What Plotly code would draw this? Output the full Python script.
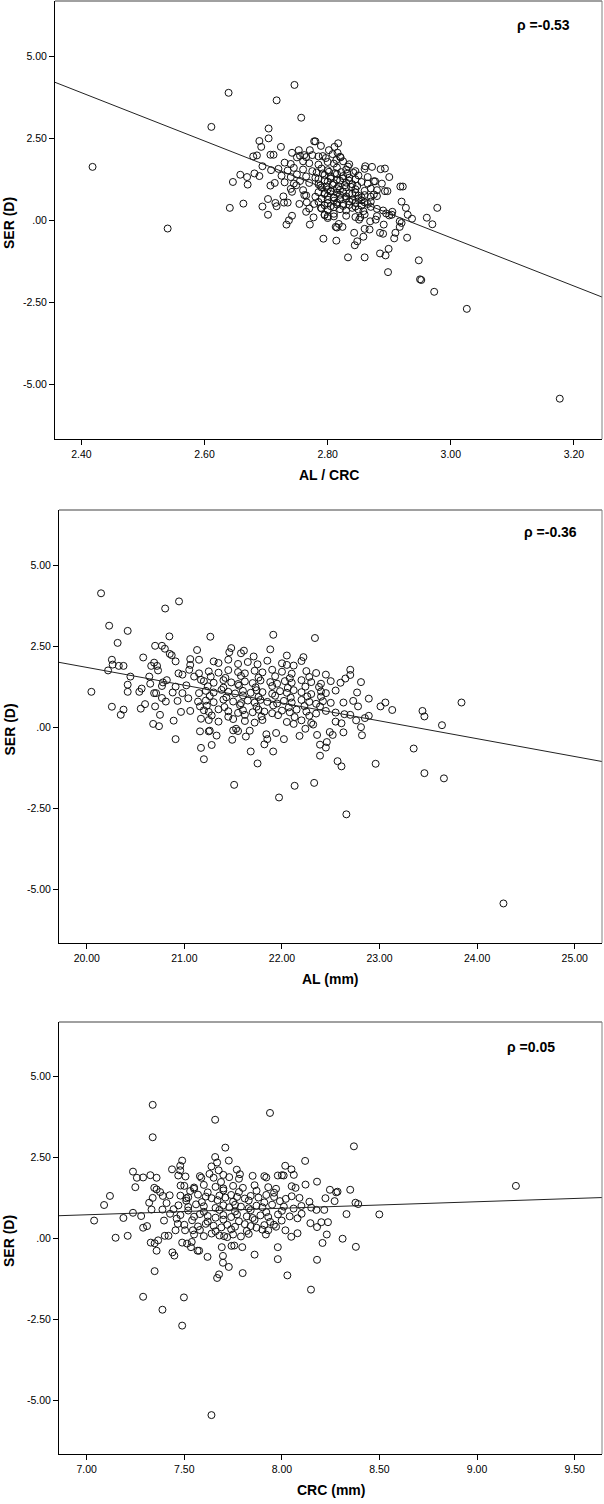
import plotly.graph_objects as go

# ---------------- Panel 1: AL / CRC vs SER ----------------
p1_x = [2.418, 2.540, 2.639, 2.611, 2.746, 2.717, 2.757, 2.641, 2.663, 2.646, 2.658, 2.669, 2.670,
        2.679, 2.685, 2.689, 2.692, 2.681, 2.689, 2.694, 2.704, 2.704, 2.707, 2.712, 2.724, 2.708,
        2.707, 2.714, 2.703, 2.694, 2.703, 2.715, 2.717, 2.728, 2.729, 2.735, 2.733, 2.737, 2.742,
        2.742, 2.754, 2.749, 2.742, 2.753, 2.750, 2.762, 2.771, 2.778, 2.780, 2.789, 2.792, 2.802,
        2.811, 2.817, 2.816, 2.821, 2.814, 2.833, 2.861, 2.872, 2.886, 2.893, 2.900, 2.918, 2.922,
        2.888, 2.877, 2.893, 2.897, 2.920, 2.927, 2.905, 2.904, 2.930, 2.937, 2.917, 2.920, 2.917,
        2.910, 2.908, 2.929, 2.961, 2.970, 2.978, 2.899, 2.885, 2.894, 2.898, 2.948, 2.950, 2.952,
        2.973, 3.026, 3.177, 2.833, 2.860, 2.844, 2.848, 2.843, 2.858, 2.860, 2.868, 2.885, 2.890,
        2.891, 2.878, 2.869, 2.851, 2.853, 2.858, 2.815, 2.813, 2.818, 2.824, 2.814, 2.793, 2.810,
        2.800, 2.795, 2.777, 2.771, 2.765, 2.766, 2.770, 2.778, 2.762, 2.789]
p1_y = [1.63, -0.25, 3.89, 2.85, 4.13, 3.66, 3.13, 0.38, 0.51, 1.17, 1.39, 1.32, 1.09,
        1.95, 1.98, 2.42, 2.24, 1.43, 1.35, 1.65, 2.80, 2.50, 2.00, 2.00, 2.24, 1.53,
        1.06, 1.14, 0.65, 0.42, 0.17, 0.53, 0.43, 0.73, 0.54, 0.54, -0.13, 0.00, 0.14,
        0.87, 0.50, 1.07, 2.06, 2.14, 1.92, 1.99, 2.14, 2.41, 2.41, 2.27, 1.96, 2.14,
        2.24, 2.35, 2.06, 1.92, 1.84, 1.64, 1.65, 1.63, 1.56, 1.58, 1.32, 1.03, 1.03,
        1.12, 1.19, 0.89, 0.89, 0.57, 0.38, 0.26, 0.17, 0.17, 0.05, -0.03, -0.08, -0.20,
        -0.38, -0.55, -0.53, 0.08, -0.12, 0.38, -0.87, -1.01, -1.07, -1.58, -1.22, -1.80, -1.82,
        -2.18, -2.70, -5.44, -1.13, -1.13, -0.76, -0.64, -0.38, -0.50, -0.26, -0.28, -0.38, -0.41,
        -0.13, 0.02, -0.03, 0.02, 0.09, 0.28, -0.22, -0.20, -0.11, -0.20, -0.62, -0.56, 0.12,
        0.07, 0.17, 0.09, -0.13, 0.26, 0.55, 0.36, 0.50, 0.77, 0.38]
p1_cluster_x = [2.755, 2.765, 2.775, 2.785, 2.797, 2.808, 2.820,
                2.730, 2.740, 2.760, 2.770, 2.785, 2.800, 2.810, 2.825, 2.835,
                2.720, 2.735, 2.745, 2.760, 2.775, 2.790, 2.800, 2.815, 2.830, 2.845, 2.860,
                2.725, 2.740, 2.750, 2.765, 2.780, 2.795, 2.805, 2.815, 2.825, 2.835, 2.850, 2.865,
                2.730, 2.745, 2.755, 2.770, 2.785, 2.800, 2.810, 2.820, 2.830, 2.840, 2.855, 2.865, 2.875,
                2.740, 2.760, 2.790, 2.800, 2.805, 2.815, 2.820, 2.830, 2.845, 2.860, 2.870, 2.880,
                2.765, 2.780, 2.795, 2.800, 2.810, 2.820, 2.830, 2.840, 2.850, 2.855, 2.860, 2.870, 2.875, 2.880,
                2.785, 2.800, 2.810, 2.815, 2.825, 2.835, 2.845, 2.855, 2.860, 2.865, 2.870,
                2.790, 2.800, 2.810, 2.820, 2.830, 2.840, 2.850, 2.870, 2.880, 2.890,
                2.795, 2.800, 2.810, 2.830, 2.845, 2.860, 2.880, 2.895, 2.900]
p1_cluster_y = [1.97, 1.93, 1.99, 1.95, 1.90, 2.02, 1.94,
                1.76, 1.72, 1.80, 1.74, 1.70, 1.78, 1.73, 1.80, 1.71,
                1.57, 1.52, 1.60, 1.55, 1.50, 1.58, 1.53, 1.61, 1.55, 1.50, 1.57,
                1.36, 1.32, 1.40, 1.34, 1.30, 1.38, 1.33, 1.41, 1.35, 1.30, 1.37, 1.32,
                1.16, 1.12, 1.20, 1.14, 1.10, 1.18, 1.13, 1.21, 1.15, 1.10, 1.17, 1.12, 1.19,
                0.96, 0.92, 1.00, 0.94, 0.90, 0.98, 0.93, 1.01, 0.95, 0.90, 0.97, 0.92,
                0.76, 0.72, 0.80, 0.74, 0.70, 0.78, 0.73, 0.81, 0.75, 0.70, 0.77, 0.72, 0.79, 0.74,
                0.56, 0.52, 0.60, 0.54, 0.50, 0.58, 0.53, 0.61, 0.55, 0.50, 0.57,
                0.36, 0.32, 0.40, 0.34, 0.30, 0.38, 0.33, 0.41, 0.35, 0.30,
                0.16, 0.12, 0.20, 0.14, 0.10, 0.18, 0.13, 0.21, 0.15]
p1_core_x = [2.782, 2.792, 2.802, 2.812, 2.822, 2.832, 2.842,
             2.785, 2.795, 2.805, 2.815, 2.825, 2.835, 2.845,
             2.788, 2.798, 2.808, 2.818, 2.828, 2.838, 2.848,
             2.785, 2.795, 2.805, 2.815, 2.825, 2.835, 2.845,
             2.790, 2.800, 2.810, 2.820, 2.830, 2.840, 2.850,
             2.795, 2.805, 2.815, 2.825, 2.835, 2.845, 2.855]
p1_core_y = [1.46, 1.43, 1.48, 1.44, 1.47, 1.42, 1.45,
             1.26, 1.22, 1.27, 1.24, 1.28, 1.21, 1.25,
             1.06, 1.03, 1.08, 1.04, 1.07, 1.02, 1.05,
             0.86, 0.83, 0.88, 0.84, 0.87, 0.82, 0.85,
             0.66, 0.63, 0.68, 0.64, 0.67, 0.62, 0.65,
             0.46, 0.43, 0.48, 0.44, 0.47, 0.42, 0.45]
p1_fit_x = [2.357, 3.2456]
p1_fit_y = [4.21, -2.34]

# ---------------- Panel 2: AL vs SER ----------------
p2_x = [20.146, 20.945, 20.803, 20.229, 20.419, 20.316, 20.846, 21.266, 21.911, 22.338, 20.047, 20.257,
        20.376, 20.348, 20.218, 20.257, 20.265, 20.328, 20.376, 20.447, 20.419, 20.419, 20.538, 20.562,
        20.553, 20.597, 20.578, 20.68, 20.74, 20.75, 20.70, 20.69, 20.71, 20.66, 20.69, 20.72, 20.73,
        20.70, 20.77, 20.80, 20.85, 20.87, 20.91, 20.64, 20.65, 20.77, 20.78, 20.82, 20.77, 20.81,
        20.89, 20.91, 20.965, 20.93, 20.88, 20.91, 20.94, 20.98, 20.98, 21.02, 21.04, 21.06, 21.06,
        21.06, 21.05, 21.10, 21.13, 21.15, 21.15, 21.17, 21.15, 21.14, 21.16, 21.17, 21.16, 21.17,
        21.20, 21.28, 21.25, 21.26, 21.33, 21.51, 21.49, 21.50, 21.53, 21.55, 21.63, 21.67, 21.68,
        21.75, 21.82, 21.84, 21.85, 21.91, 21.94, 21.97, 22.02, 22.13, 22.18, 22.24, 22.33, 22.36,
        22.39, 22.39, 22.45, 22.46, 22.49, 22.52, 22.57, 22.61, 22.63, 22.66, 22.81, 22.82, 22.76,
        22.85, 22.89, 22.89, 22.96, 23.01, 23.06, 23.13, 23.35, 23.44, 23.46, 23.46, 23.64, 23.66,
        23.84, 24.27, 22.81, 22.77, 22.70, 22.70, 22.65, 22.73, 22.78, 22.63, 22.64, 22.70, 22.61,
        22.55]
p2_y = [4.13, 3.88, 3.66, 3.13, 2.97, 2.60, 2.80, 2.79, 2.85, 2.75, 1.09, 0.63,
        0.54, 0.38, 1.75, 2.08, 1.93, 1.89, 1.89, 1.56, 1.31, 1.09, 1.09, 1.19,
        0.57, 0.71, 2.15, 0.10, 0.03, 0.38, 0.64, 1.05, 1.05, 1.89, 1.99, 1.89, 1.75,
        2.51, 2.51, 2.42, 2.26, 2.22, 2.03, 1.56, 1.34, 1.27, 1.38, 1.45, 0.90, 0.79,
        0.20, -0.37, 0.47, 0.81, 1.07, 1.25, 1.66, 1.62, 1.05, 1.29, 0.89, 0.50, 2.10,
        1.92, 1.77, 1.56, 2.38, 2.08, 1.66, 1.46, 1.05, 0.79, 0.64, 0.26, -0.13, -0.64,
        -0.99, -0.55, -0.13, -0.11, -0.26, -1.78, -0.39, -0.10, -0.05, -0.12, -0.29, -0.11, -0.75,
        -1.12, -0.53, -0.22, -0.37, -0.75, -0.18, -2.17, -0.37, -1.81, -0.27, -0.05, -1.72, -0.24,
        -0.54, -0.88, -0.63, -0.46, -0.15, -0.24, -1.05, -1.21, -0.16, -2.69, 0.00, -0.25, 0.21,
        0.28, 0.35, 0.88, -1.13, 0.64, 0.76, 0.53, -0.66, 0.50, 0.33, -1.42, 0.06, -1.58,
        0.76, -5.44, 1.39, 1.07, 1.77, 1.61, 1.50, 0.81, 0.64, 0.76, 0.40, 0.38, 0.12,
        0.17]
p2_cluster_x = [21.46, 21.48, 21.58, 21.61, 21.71, 21.88, 22.05, 22.22,
                21.30, 21.35, 21.45, 21.55, 21.65, 21.75, 21.85, 22.00, 22.05, 22.20, 22.12,
                21.25, 21.35, 21.45, 21.55, 21.62, 21.72, 21.80, 21.90, 22.00, 22.10, 22.25, 22.35, 22.45,
                21.20, 21.30, 21.40, 21.48, 21.55, 21.62, 21.70, 21.78, 21.88, 21.95, 22.03, 22.10, 22.20,
                22.30, 22.40, 22.50, 22.60,
                21.22, 21.30, 21.38, 21.45, 21.52, 21.60, 21.68, 21.74, 21.80, 21.90, 21.98, 22.05, 22.12,
                22.20, 22.30, 22.40, 22.45, 22.55,
                21.22, 21.30, 21.40, 21.50, 21.58, 21.65, 21.72, 21.78, 21.85, 21.95, 22.02, 22.10, 22.20,
                22.28, 22.35, 22.42, 22.50,
                21.20, 21.25, 21.35, 21.45, 21.55, 21.60, 21.70, 21.76, 21.82, 21.90, 22.00, 22.08, 22.15,
                22.25, 22.35, 22.45, 22.55,
                21.25, 21.35, 21.50, 21.62, 21.72, 21.80, 22.05, 22.12, 22.20, 22.30, 22.32]
p2_cluster_y = [2.31, 2.44, 2.28, 2.36, 2.18, 2.40, 2.21, 2.16,
                2.03, 1.98, 2.08, 1.95, 2.01, 1.94, 2.05, 1.97, 1.92, 2.04, 1.90,
                1.72, 1.68, 1.76, 1.70, 1.66, 1.74, 1.69, 1.77, 1.71, 1.65, 1.73, 1.67, 1.62,
                1.42, 1.37, 1.45, 1.38, 1.33, 1.41, 1.36, 1.44, 1.39, 1.34, 1.42, 1.37, 1.45,
                1.39, 1.34, 1.42, 1.37,
                1.12, 1.07, 1.15, 1.09, 1.04, 1.12, 1.06, 1.14, 1.08, 1.03, 1.11, 1.06, 1.14,
                1.08, 1.02, 1.10, 1.05, 1.13,
                0.82, 0.77, 0.85, 0.79, 0.74, 0.82, 0.76, 0.84, 0.78, 0.73, 0.81, 0.76, 0.84,
                0.78, 0.72, 0.80, 0.75,
                0.52, 0.47, 0.55, 0.49, 0.44, 0.52, 0.46, 0.54, 0.48, 0.43, 0.51, 0.46, 0.54,
                0.48, 0.42, 0.50, 0.45,
                0.22, 0.17, 0.25, 0.19, 0.14, 0.22, 0.16, 0.10, 0.21, 0.13, 0.08]
p2_core_x = [21.27, 21.42, 21.58, 21.76, 21.93, 22.08, 22.28,
             21.24, 21.40, 21.56, 21.73, 21.90, 22.06, 22.24, 22.38,
             21.26, 21.43, 21.60, 21.76, 21.93, 22.09, 22.26, 22.40,
             21.23, 21.41, 21.57, 21.74, 21.91, 22.07, 22.23, 22.39,
             21.28, 21.45, 21.62, 21.79, 21.96, 22.13, 22.28]
p2_core_y = [1.56, 1.52, 1.58, 1.53, 1.57, 1.51, 1.55,
             1.26, 1.22, 1.28, 1.23, 1.27, 1.21, 1.25, 1.24,
             0.96, 0.92, 0.98, 0.93, 0.97, 0.91, 0.95, 0.94,
             0.66, 0.62, 0.68, 0.63, 0.67, 0.61, 0.65, 0.64,
             0.36, 0.32, 0.38, 0.33, 0.37, 0.31, 0.35]
p2_fit_x = [19.715, 25.28]
p2_fit_y = [2.00, -1.06]

# ---------------- Panel 3: CRC vs SER ----------------
p3_x = [7.038, 7.089, 7.119, 7.148, 7.188, 7.210, 7.237, 7.249, 7.237, 7.257, 7.289, 7.279, 7.289,
        7.309, 7.289, 7.326, 7.320, 7.328, 7.338, 7.338, 7.338, 7.332, 7.346, 7.348, 7.348, 7.358,
        7.358, 7.358, 7.366, 7.376, 7.388, 7.390, 7.396, 7.400, 7.388, 7.409, 7.419, 7.425, 7.427,
        7.437, 7.439, 7.449, 7.445, 7.455, 7.461, 7.467, 7.469, 7.479, 7.489, 7.479, 7.481, 7.489,
        7.489, 7.498, 7.506, 7.510, 7.504, 7.514, 7.534, 7.538, 7.544, 7.550, 7.568, 7.576, 7.587,
        7.619, 7.639, 7.629, 7.639, 7.658, 7.658, 7.668, 7.676, 7.688, 7.710, 7.728, 7.668, 7.678,
        7.698, 7.698, 7.728, 7.692, 7.704, 7.742, 7.756, 7.769, 7.785, 7.799, 7.797, 7.860, 7.939,
        7.910, 7.979, 7.979, 7.979, 8.028, 8.017, 8.009, 8.049, 8.061, 8.119, 8.121, 8.149, 8.180,
        8.180, 8.208, 8.230, 8.270, 8.278, 8.285, 8.311, 8.331, 8.350, 8.369, 8.377, 8.391, 8.379,
        8.499, 9.199, 8.246, 8.223, 8.236, 8.217, 8.177, 8.202, 8.180, 8.146, 8.141, 8.101, 8.080,
        8.048, 8.018, 7.999, 7.959, 7.930, 7.918]
p3_y = [0.55, 1.03, 1.31, 0.02, 0.63, 0.08, 2.06, 1.58, 0.79, 1.87, 1.88, 0.69, 0.33,
        0.38, -1.80, 1.95, 1.10, -0.13, 4.12, 3.12, 1.25, 0.89, 1.56, -1.01, -0.15, 1.87,
        1.51, -0.38, -0.06, 1.43, -2.20, 1.31, 0.55, 0.08, 0.89, 1.09, 0.08, 1.33, 0.76,
        2.13, -0.43, -0.53, 0.90, 0.25, 0.61, 0.45, 1.94, 2.24, 2.40, 2.10, 1.63, -2.69,
        -0.13, -1.82, 1.91, 1.24, 0.25, -0.16, -0.27, -0.11, 0.25, 1.53, -0.38, -0.38, 1.87,
        -0.57, -5.45, 1.99, 2.22, 2.51, 3.66, 2.34, 2.10, 1.74, 2.80, 2.40, -1.22, -1.11,
        -0.54, -0.75, -0.88, -0.27, 0.07, -0.23, -0.22, 2.12, 1.98, -1.07, -0.27, -0.50, 3.87,
        1.92, 1.94, -0.27, -0.64, -1.14, 2.24, 1.94, 2.13, 1.96, 2.39, 1.66, -1.58, -0.66,
        1.75, -0.14, 0.12, 1.15, 1.42, 1.44, -0.01, 0.75, 1.50, 2.84, 1.10, 1.06, -0.26,
        0.74, 1.62, 1.50, 1.24, 0.50, 0.88, 0.88, 0.50, 0.35, 0.47, 1.13, 0.76, 0.16,
        0.05, 0.25, 0.55, 0.42, 0.25, 0.12]
p3_cluster_x = [7.58, 7.65, 7.70, 7.73, 7.78, 7.85, 7.92, 8.00,
                7.50, 7.55, 7.60, 7.66, 7.70, 7.75, 7.80, 7.86, 7.93, 7.97, 8.05, 8.07,
                7.48, 7.52, 7.57, 7.61, 7.64, 7.68, 7.71, 7.74, 7.77, 7.81, 7.84, 7.88, 7.92, 7.96,
                8.02, 8.05, 8.09,
                7.47, 7.52, 7.56, 7.60, 7.66, 7.70, 7.73, 7.76, 7.79, 7.83, 7.87, 7.90, 7.95, 8.01,
                8.06, 8.10, 8.15,
                7.48, 7.55, 7.58, 7.62, 7.66, 7.70, 7.74, 7.77, 7.82, 7.85, 7.89, 7.93, 7.98, 8.04, 8.08,
                7.50, 7.57, 7.61, 7.65, 7.69, 7.72, 7.76, 7.81, 7.84, 7.87, 7.91, 7.97,
                7.55, 7.60, 7.64, 7.68, 7.72, 7.75, 7.79, 7.83]
p3_cluster_y = [1.92, 1.87, 1.96, 1.89, 1.84, 1.93, 1.88, 1.95,
                1.62, 1.57, 1.65, 1.59, 1.54, 1.62, 1.56, 1.64, 1.58, 1.53, 1.61, 1.56,
                1.32, 1.27, 1.35, 1.29, 1.24, 1.32, 1.26, 1.34, 1.28, 1.23, 1.31, 1.26, 1.34, 1.28,
                1.22, 1.30, 1.25,
                1.02, 0.97, 1.05, 0.99, 0.94, 1.02, 0.96, 1.04, 0.98, 0.93, 1.01, 0.96, 1.04, 0.98,
                0.92, 1.00, 0.95,
                0.72, 0.67, 0.75, 0.69, 0.64, 0.72, 0.66, 0.74, 0.68, 0.63, 0.71, 0.66, 0.74, 0.68, 0.62,
                0.42, 0.37, 0.45, 0.39, 0.34, 0.42, 0.36, 0.44, 0.38, 0.33, 0.41, 0.36,
                0.12, 0.07, 0.15, 0.09, 0.04, 0.12, 0.06, 0.14]
p3_core_x = [7.53, 7.62, 7.70, 7.78, 7.87, 7.96,
             7.51, 7.59, 7.67, 7.75, 7.83, 7.91, 7.99,
             7.52, 7.60, 7.68, 7.76, 7.84, 7.92, 8.00,
             7.54, 7.62, 7.70, 7.78, 7.86, 7.94,
             7.58, 7.66, 7.74, 7.82, 7.90]
p3_core_y = [1.46, 1.42, 1.48, 1.43, 1.47, 1.41,
             1.16, 1.12, 1.18, 1.13, 1.17, 1.11, 1.15,
             0.86, 0.82, 0.88, 0.83, 0.87, 0.81, 0.85,
             0.56, 0.52, 0.58, 0.53, 0.57, 0.51,
             0.26, 0.22, 0.28, 0.23, 0.27]
p3_fit_x = [6.858, 9.64]
p3_fit_y = [0.70, 1.26]

# tick labels
y_tickvals = [5.0, 2.5, 0.0, -2.5, -5.0]
y_ticktext = ["5.00", "2.50", ".00", "-2.50", "-5.00"]
p1_xtickvals = [2.40, 2.60, 2.80, 3.00, 3.20]
p1_xticktext = ["2.40", "2.60", "2.80", "3.00", "3.20"]
p2_xtickvals = [20, 21, 22, 23, 24, 25]
p2_xticktext = ["20.00", "21.00", "22.00", "23.00", "24.00", "25.00"]
p3_xtickvals = [7.0, 7.5, 8.0, 8.5, 9.0, 9.5]
p3_xticktext = ["7.00", "7.50", "8.00", "8.50", "9.00", "9.50"]
x_titles = ["AL / CRC", "AL (mm)", "CRC (mm)"]
rho_labels = ["ρ =-0.53", "ρ =-0.36", "ρ =0.05"]

W, H = 604, 1504
FONT = "Liberation Sans, Arial, sans-serif"

fig = go.Figure()

panels = [
    (p1_x + p1_cluster_x + p1_core_x, p1_y + p1_cluster_y + p1_core_y, p1_fit_x, p1_fit_y, "x", "y"),
    (p2_x + p2_cluster_x + p2_core_x, p2_y + p2_cluster_y + p2_core_y, p2_fit_x, p2_fit_y, "x2", "y2"),
    (p3_x + p3_cluster_x + p3_core_x, p3_y + p3_cluster_y + p3_core_y, p3_fit_x, p3_fit_y, "x3", "y3"),
]
for xs, ys, fx, fy, xa, ya in panels:
    fig.add_trace(go.Scatter(x=xs, y=ys, mode="markers", xaxis=xa, yaxis=ya,
                             marker=dict(symbol="circle-open", size=7, color="#111111",
                                         line=dict(width=1, color="#111111")),
                             showlegend=False, hoverinfo="skip"))
    fig.add_trace(go.Scatter(x=fx, y=fy, mode="lines", xaxis=xa, yaxis=ya,
                             line=dict(color="#222222", width=1),
                             showlegend=False, hoverinfo="skip"))

# pixel boxes: (left, right, top, bottom)
boxes = [(55, 602, 1, 439), (59, 602, 510, 943), (59, 602, 1022, 1454)]
xranges = [[2.357, 3.2456], [19.715, 25.28], [6.858, 9.64]]
yranges = [[-6.67, 6.69], [-6.66, 6.70], [-6.65, 6.675]]
xticks = [(p1_xtickvals, p1_xticktext), (p2_xtickvals, p2_xticktext), (p3_xtickvals, p3_xticktext)]

axis_common = dict(showgrid=False, zeroline=False, showline=True, linecolor="#000000",
                   linewidth=1, ticks="outside", ticklen=5, tickcolor="#000000",
                   tickfont=dict(family=FONT, size=10.5, color="#000000"), fixedrange=True)

layout = dict(width=W, height=H, margin=dict(l=0, r=0, t=0, b=0),
              paper_bgcolor="white", plot_bgcolor="white", showlegend=False)
shapes = []
annotations = []
for i, (l, r, t, b) in enumerate(boxes):
    sfx = "" if i == 0 else str(i + 1)
    layout["xaxis" + sfx] = dict(axis_common, domain=[l / W, r / W], range=xranges[i],
                                 anchor="y" + sfx, tickvals=xticks[i][0], ticktext=xticks[i][1])
    layout["yaxis" + sfx] = dict(axis_common, domain=[1 - b / H, 1 - t / H], range=yranges[i],
                                 anchor="x" + sfx, tickvals=y_tickvals, ticktext=y_ticktext)
    # gray top and right frame
    shapes.append(dict(type="line", xref="paper", yref="paper", x0=l / W, x1=r / W,
                       y0=1 - t / H, y1=1 - t / H, line=dict(color="#808080", width=1.5)))
    shapes.append(dict(type="line", xref="paper", yref="paper", x0=r / W, x1=r / W,
                       y0=1 - t / H, y1=1 - b / H, line=dict(color="#808080", width=1)))
    # y title
    annotations.append(dict(text="<b>SER (D)</b>", xref="paper", yref="paper",
                            x=0, y=1 - ((t + b) / 2 + 3) / H, textangle=-90,
                            showarrow=False, xanchor="left", yanchor="middle", borderpad=0,
                            font=dict(family=FONT, size=14, color="#000000")))
    # x title
    annotations.append(dict(text="<b>" + x_titles[i] + "</b>", xref="paper", yref="paper",
                            x=((l + r) / 2) / W, y=1 - (b + 36) / H,
                            showarrow=False, xanchor="center", yanchor="middle",
                            font=dict(family=FONT, size=14, color="#000000")))

rho_pos = [(543, 25), (550, 532), (531, 1047)]
for (px, py), txt in zip(rho_pos, rho_labels):
    annotations.append(dict(text="<b>" + txt + "</b>", xref="paper", yref="paper",
                            x=px / W, y=1 - py / H, showarrow=False,
                            xanchor="center", yanchor="middle",
                            font=dict(family=FONT, size=14, color="#000000")))

layout["shapes"] = shapes
layout["annotations"] = annotations
fig.update_layout(**layout)
fig.write_html("out.html", config={"displayModeBar": False},
               post_script="document.body.style.margin='0px';")
